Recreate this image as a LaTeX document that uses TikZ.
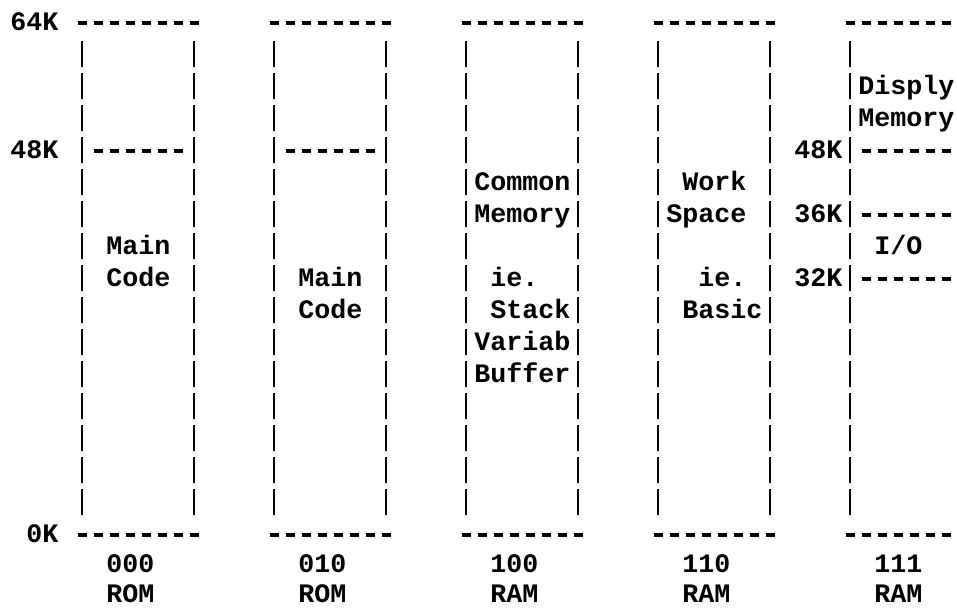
\documentclass[tikz,border=0pt]{standalone}
\usepackage{fontspec}
\setmonofont{Liberation Mono}
% column c centre: 18+16c px ; row r centre: 23+32r px
\newcommand\putlbl[4]{\node[txt] (#1) at ({10+16*#2},{23+32*#3+7.6}) {#4};}
\newcommand\putlbly[4]{\node[txt] (#1) at ({10+16*#2},{#3+7.6}) {#4};}
\newcommand\hdashes[3]{\draw[hd] ({18+16*#2-4.5},{23+32*#1}) -- ({18+16*#3+4.5},{23+32*#1});}
\newcommand\vbars[1]{\draw[vd] ({18+16*#1},{23+32-14}) -- ({18+16*#1},{23+32*15+12});}
\begin{document}
\begin{tikzpicture}[x=0.75pt,y=-0.75pt,
  txt/.style={anchor=base west,inner sep=0pt,font=\ttfamily\bfseries\fontsize{20}{24}\selectfont},
  hd/.style={line width=2.4pt,dash pattern=on 6.75pt off 5.25pt},
  vd/.style={line width=2.2pt,dash pattern=on 19.5pt off 4.5pt}]
\useasboundingbox (0,0) rectangle (957,608);
% address labels
\putlbl{k64}{0}{0}{64K}
\putlbl{k48}{0}{4}{48K}
\putlbl{k0}{1}{16}{0K}
% top and bottom boundaries
\foreach \r in {0,16}{
  \hdashes{\r}{4}{11}
  \hdashes{\r}{16}{23}
  \hdashes{\r}{28}{35}
  \hdashes{\r}{40}{47}
  \hdashes{\r}{52}{58}
}
% inner dividers
\hdashes{4}{5}{10}
\hdashes{4}{17}{22}
\hdashes{4}{53}{58}
\hdashes{6}{53}{58}
\hdashes{8}{53}{58}
% vertical sides
\foreach \c in {4,11,16,23,28,35,40,47,52}{\vbars{\c}}
% block 000
\putlbl{a1}{6}{7}{Main}
\putlbl{a2}{6}{8}{Code}
% block 010
\putlbl{b1}{18}{8}{Main}
\putlbl{b2}{18}{9}{Code}
% block 100
\putlbl{c1}{29}{5}{Common}
\putlbl{c2}{29}{6}{Memory}
\putlbl{c3}{30}{8}{ie.}
\putlbl{c4}{30}{9}{Stack}
\putlbl{c5}{29}{10}{Variab}
\putlbl{c6}{29}{11}{Buffer}
% block 110
\putlbl{d1}{42}{5}{Work}
\putlbl{d2}{41}{6}{Space}
\putlbl{d3}{43}{8}{ie.}
\putlbl{d4}{42}{9}{Basic}
% block 111
\putlbl{e1}{53}{2}{Disply}
\putlbl{e2}{53}{3}{Memory}
\putlbl{e3}{49}{4}{48K}
\putlbl{e4}{49}{6}{36K}
\putlbl{e5}{54}{7}{I/O}
\putlbl{e6}{49}{8}{32K}
% bottom captions
\putlbly{f1}{6}{565}{000}
\putlbly{f2}{6}{595}{ROM}
\putlbly{g1}{18}{565}{010}
\putlbly{g2}{18}{595}{ROM}
\putlbly{h1}{30}{565}{100}
\putlbly{h2}{30}{595}{RAM}
\putlbly{i1}{42}{565}{110}
\putlbly{i2}{42}{595}{RAM}
\putlbly{j1}{54}{565}{111}
\putlbly{j2}{54}{595}{RAM}
\end{tikzpicture}
\end{document}
